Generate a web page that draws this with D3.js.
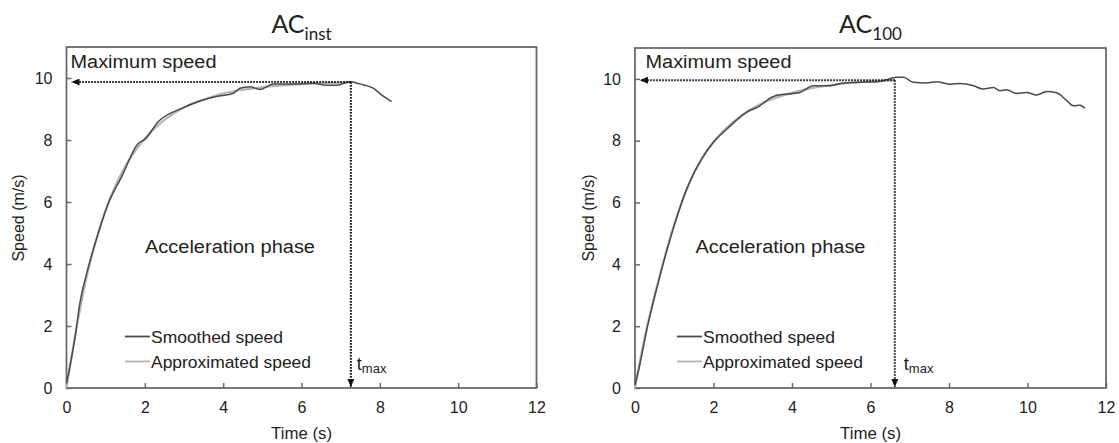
<!DOCTYPE html>
<html>
<head>
<meta charset="utf-8">
<script src="https://cdn.jsdelivr.net/npm/d3@7"></script>
<style>
    body { margin: 0; background: #fff; }
    svg text { font-family: "Liberation Sans", Arial, sans-serif; fill: #222; }
    .tick text { font-size: 16px; }
    .title { font-family: Lato, "Open Sans", sans-serif !important; }
</style>
</head>
<body>
<script>
    // ---- data ----
    var instTime     = [0, 0.22, 0.34, 0.56, 0.81, 1.07, 1.41, 1.83, 2.0, 2.34, 2.94, 3.37, 3.83, 4.26, 4.43, 4.68, 4.94, 5.28, 5.62, 5.96, 6.30, 6.64, 6.90, 7.24, 7.49, 7.83, 8.05, 8.30];
    var instSmoothed = [0.15, 1.65, 2.73, 3.91, 4.99, 5.96, 6.82, 7.89, 8.02, 8.59, 9.02, 9.24, 9.40, 9.51, 9.67, 9.72, 9.63, 9.81, 9.81, 9.81, 9.83, 9.77, 9.77, 9.88, 9.81, 9.67, 9.45, 9.24];
    var instApproxTime = [0, 0.25, 0.5, 0.75, 1, 1.5, 2, 2.5, 3, 3.5, 4, 4.5, 5, 5.5, 6, 6.5, 7, 7.26];
    var instApprox     = [0, 1.9, 3.5, 4.75, 5.75, 7.15, 8.05, 8.65, 9.05, 9.3, 9.5, 9.62, 9.7, 9.76, 9.8, 9.83, 9.85, 9.86];
    var instMax = { t: 7.26, v: 9.87 };

    var c100Time     = [0, 0.13, 0.30, 0.55, 0.81, 1.06, 1.32, 1.74, 1.99, 2.34, 2.84, 3.18, 3.35, 3.61, 4.20, 4.54, 4.97, 5.31, 5.73, 6.24, 6.67, 6.84, 7.09, 7.43, 7.69, 8.03, 8.28, 8.62, 8.87, 9.13, 9.30, 9.47, 9.72, 9.98, 10.23, 10.49, 10.74, 11.0, 11.17, 11.34, 11.46];
    var c100Smoothed = [0.1, 0.8, 1.88, 3.2, 4.45, 5.5, 6.45, 7.5, 7.94, 8.38, 8.92, 9.13, 9.30, 9.47, 9.56, 9.78, 9.78, 9.87, 9.89, 9.92, 10.05, 10.05, 9.89, 9.87, 9.91, 9.83, 9.85, 9.78, 9.67, 9.72, 9.62, 9.65, 9.53, 9.56, 9.48, 9.59, 9.55, 9.30, 9.13, 9.15, 9.05];
    var c100ApproxTime = [0, 0.25, 0.5, 0.75, 1, 1.5, 2, 2.5, 3, 3.5, 4, 4.5, 5, 5.5, 6, 6.62];
    var c100Approx     = [0, 1.65, 3.0, 4.2, 5.3, 6.95, 7.95, 8.6, 9.05, 9.35, 9.55, 9.7, 9.8, 9.87, 9.92, 9.96];
    var c100Max = { t: 6.62, v: 9.96 };

    var xTicks = [0, 2, 4, 6, 8, 10, 12];
    var yTicks = [0, 2, 4, 6, 8, 10];
    var legendLabels = ["Smoothed speed", "Approximated speed"];

    var w = 1119, h = 443;

    var svg = d3.select("body").append("svg")
        .attr("width", w)
        .attr("height", h);

    svg.append("defs").append("marker")
        .attr("id", "arrow")
        .attr("viewBox", "0 0 8 7")
        .attr("refX", 8).attr("refY", 3.5)
        .attr("markerWidth", 8).attr("markerHeight", 7)
        .attr("markerUnits", "userSpaceOnUse")
        .attr("orient", "auto")
        .append("path")
        .attr("d", "M0,0L8,3.5L0,7Z")
        .attr("fill", "#111");

    function zip(a, b) {
        return a.map(function(d, i) { return [d, b[i]]; });
    }

    function drawPanel(p) {
        var x = d3.scaleLinear().domain([0, 12]).range([p.left, p.right]);
        var y = d3.scaleLinear().domain([0, 11]).range([388, p.top]);
        var g = svg.append("g");

        // frame
        g.append("rect")
            .attr("x", x(0)).attr("y", y(11))
            .attr("width", x(12) - x(0)).attr("height", y(0) - y(11))
            .attr("fill", "none").attr("stroke", "#6a6a6a").attr("stroke-width", 1.8);

        var xAxis = g.append("g")
            .attr("transform", "translate(0," + y(0) + ")")
            .call(d3.axisBottom(x).tickValues(xTicks).tickSizeInner(-5).tickSizeOuter(0).tickPadding(14));
        var yAxis = g.append("g")
            .attr("transform", "translate(" + x(0) + ",0)")
            .call(d3.axisLeft(y).tickValues(yTicks).tickSizeInner(-5).tickSizeOuter(0).tickPadding(14));
        [xAxis, yAxis].forEach(function(a) {
            a.select(".domain").remove();
            a.selectAll(".tick line").attr("stroke", "#6a6a6a").attr("stroke-width", 1.5);
            a.selectAll(".tick text").attr("fill", "#222");
        });

        var line = d3.line()
            .x(function(d) { return x(d[0]); })
            .y(function(d) { return y(d[1]); })
            .curve(d3.curveMonotoneX);

        g.append("path")
            .datum(zip(p.approxTime, p.approx))
            .attr("d", line)
            .attr("fill", "none").attr("stroke", "#b4b4b4").attr("stroke-width", 2.2);
        g.append("path")
            .datum(zip(p.time, p.smoothed))
            .attr("d", line)
            .attr("fill", "none").attr("stroke", "#4a4a4a").attr("stroke-width", 1.5);

        // dotted arrows to max speed and t_max
        g.append("line")
            .attr("x1", x(p.max.t)).attr("y1", y(p.max.v))
            .attr("x2", x(0) + 5).attr("y2", y(p.max.v))
            .attr("stroke", "#111").attr("stroke-width", 2).attr("stroke-dasharray", "1.6,1.4")
            .attr("marker-end", "url(#arrow)");
        g.append("line")
            .attr("x1", x(p.max.t)).attr("y1", y(p.max.v))
            .attr("x2", x(p.max.t)).attr("y2", y(0) - 1)
            .attr("stroke", "#111").attr("stroke-width", 2).attr("stroke-dasharray", "1.6,1.4")
            .attr("marker-end", "url(#arrow)");

        // title
        var t = g.append("text").attr("class", "title")
            .attr("x", (x(0) + x(12)) / 2).attr("y", 33)
            .attr("text-anchor", "middle");
        t.append("tspan").attr("font-size", 25).text("AC");
        t.append("tspan").attr("font-size", 17).attr("dy", 7).text(p.sub);

        g.append("text")
            .attr("x", x(0) + p.maxLabelDx).attr("y", 68)
            .attr("font-size", 18).attr("textLength", 146).attr("lengthAdjust", "spacingAndGlyphs")
            .text("Maximum speed");

        g.append("text")
            .attr("x", x(0) + p.accDx).attr("y", 253)
            .attr("font-size", 18).attr("textLength", 170).attr("lengthAdjust", "spacingAndGlyphs")
            .text("Acceleration phase");

        var tm = g.append("text")
            .attr("x", x(p.max.t) + p.tmaxDx).attr("y", 370);
        tm.append("tspan").attr("font-size", 18).text("t");
        tm.append("tspan").attr("font-size", 13).attr("dy", 3).text("max");

        // legend
        var colors = ["#4a4a4a", "#b4b4b4"];
        var widths = [132, 160];
        legendLabels.forEach(function(lab, i) {
            var ly = 336.5 + i * 25;
            g.append("line")
                .attr("x1", x(0) + p.legDx).attr("x2", x(0) + p.legDx + 25)
                .attr("y1", ly).attr("y2", ly)
                .attr("stroke", colors[i]).attr("stroke-width", 1.8);
            g.append("text")
                .attr("x", x(0) + p.legDx + 26).attr("y", ly + 6)
                .attr("font-size", 17).attr("textLength", widths[i]).attr("lengthAdjust", "spacingAndGlyphs")
                .text(lab);
        });

        // axis labels
        g.append("text")
            .attr("x", (x(0) + x(12)) / 2).attr("y", 439)
            .attr("text-anchor", "middle").attr("font-size", 16)
            .attr("textLength", 61).attr("lengthAdjust", "spacingAndGlyphs")
            .text("Time (s)");
        g.append("text")
            .attr("transform", "translate(" + (x(0) - p.yLabDx) + ",218) rotate(-90)")
            .attr("text-anchor", "middle").attr("font-size", 16)
            .text("Speed (m/s)");
    }

    drawPanel({
        left: 66.5, right: 536.5, top: 47, sub: "inst",
        time: instTime, smoothed: instSmoothed,
        approxTime: instApproxTime, approx: instApprox, max: instMax,
        maxLabelDx: 4, accDx: 78.5, tmaxDx: 6, legDx: 58.5, yLabDx: 43
    });
    drawPanel({
        left: 635, right: 1106, top: 48, sub: "100",
        time: c100Time, smoothed: c100Smoothed,
        approxTime: c100ApproxTime, approx: c100Approx, max: c100Max,
        maxLabelDx: 10.5, accDx: 60.5, tmaxDx: 9, legDx: 42, yLabDx: 41
    });
</script>
</body>
</html>
